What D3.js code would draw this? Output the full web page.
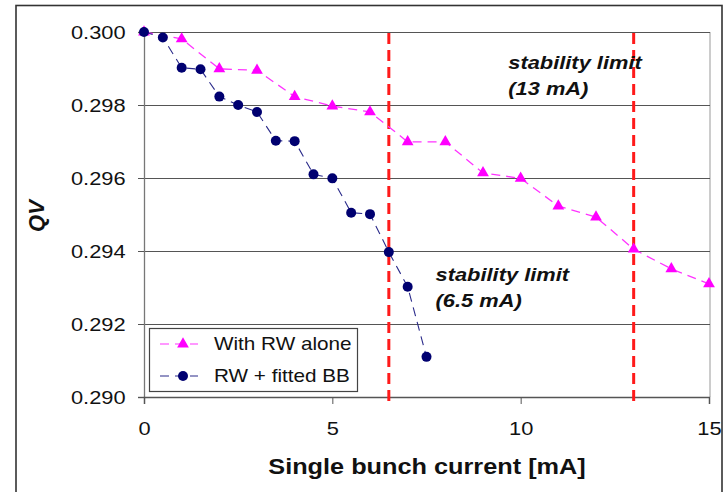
<!DOCTYPE html>
<html>
<head>
<meta charset="utf-8">
<script src="https://cdn.jsdelivr.net/npm/d3@7"></script>
<style>
  html, body { margin: 0; padding: 0; background: #fff; }
  text { font-family: "Liberation Sans", Arial, sans-serif; }
</style>
</head>
<body>
<svg id="chart" width="727" height="492"></svg>
<script>
// ---- data ----
const rwAloneX = [0, 1, 2, 3, 4, 5, 6, 7, 8, 9, 10, 11, 12, 13, 14, 15];
const rwAloneQV = [0.3000, 0.29981, 0.29899, 0.29895, 0.29823, 0.29797, 0.29781, 0.29699,
                   0.29699, 0.29614, 0.29599, 0.29523, 0.29493, 0.29405, 0.29351, 0.29310];
const rwBBX = [0, 0.5, 1, 1.5, 2, 2.5, 3, 3.5, 4, 4.5, 5, 5.5, 6, 6.5, 7, 7.5];
const rwBBQV = [0.3000, 0.29985, 0.29902, 0.29898, 0.29823, 0.29800, 0.29781, 0.29702,
                0.29701, 0.29610, 0.29599, 0.29505, 0.29501, 0.29397, 0.29302, 0.29110];
const limits = [6.5, 13];
const xTicks = [0, 5, 10, 15];
const yTicks = [0.290, 0.292, 0.294, 0.296, 0.298, 0.300];
const seriesNames = ["With RW alone", "RW + fitted BB"];
const annotations = [
  { x: 9.67, y: 0.29899, lines: ["stability limit", "(13 mA)"] },
  { x: 7.74, y: 0.29318, lines: ["stability limit", "(6.5 mA)"] }
];

const SX = 1.15; // horizontal stretch of the original picture's text
const svg = d3.select("#chart");

// outer frame
svg.append("rect").attr("x", 16).attr("y", 5.5).attr("width", 706).attr("height", 520)
  .attr("fill", "none").attr("stroke", "#333").attr("stroke-width", 1.6);

const x = d3.scaleLinear().domain([0, 15]).range([144, 709]);
const y = d3.scaleLinear().domain([0.290, 0.300]).range([397, 32]);

// plot border (right side light gray)
svg.append("line").attr("x1", 710).attr("x2", 710).attr("y1", 32).attr("y2", 397)
  .attr("stroke", "#aaa").attr("stroke-width", 1.2);

// gridlines
svg.append("g").selectAll("line").data(yTicks.slice(1)).join("line")
  .attr("x1", 144).attr("x2", 710)
  .attr("y1", d => Math.round(y(d)) + 0.5).attr("y2", d => Math.round(y(d)) + 0.5)
  .attr("stroke", "#555").attr("stroke-width", 1.1);

// y axis
const yAxis = svg.append("g").attr("transform", "translate(144,0)")
  .call(d3.axisLeft(y).tickValues(yTicks).tickFormat(d3.format(".3f")).tickSize(6).tickPadding(10));
yAxis.select(".domain").attr("stroke", "#777").attr("stroke-width", 1.3);
yAxis.selectAll(".tick line").attr("stroke", "#555");
yAxis.selectAll("text").attr("font-size", 19).attr("fill", "#111")
  .attr("font-family", "Liberation Sans, Arial, sans-serif")
  .attr("transform", `scale(${SX},1)`);

// x axis
const xAxis = svg.append("g").attr("transform", "translate(0,397)")
  .call(d3.axisBottom(x).tickValues(xTicks).tickFormat(d3.format("d")).tickSize(7).tickPadding(18));
xAxis.select(".domain").attr("stroke", "#555").attr("stroke-width", 1.5);
xAxis.selectAll(".tick line").attr("stroke", "#555");
xAxis.selectAll("text").attr("font-size", 19).attr("fill", "#111")
  .attr("font-family", "Liberation Sans, Arial, sans-serif")
  .attr("transform", `scale(${SX},1)`);

// axis titles
svg.append("text").attr("transform", `translate(427,474) scale(${SX},1)`)
  .attr("text-anchor", "middle").attr("font-size", 22).attr("font-weight", "bold")
  .attr("fill", "#111").text("Single bunch current [mA]");
svg.append("text").attr("transform", "translate(44,216) rotate(-90)")
  .attr("text-anchor", "middle").attr("font-size", 22).attr("font-weight", "bold")
  .attr("font-style", "italic").attr("fill", "#111").text("QV");

// stability limit lines
svg.append("g").selectAll("line").data(limits).join("line")
  .attr("x1", d => x(d)).attr("x2", d => x(d)).attr("y1", 33).attr("y2", 404)
  .attr("stroke", "#ff1a1a").attr("stroke-width", 3).attr("stroke-dasharray", "11,6");

// series
const rwAlone = rwAloneX.map((d, i) => ({ x: d, v: rwAloneQV[i] }));
const rwBB = rwBBX.map((d, i) => ({ x: d, v: rwBBQV[i] }));
const line = d3.line().x(d => x(d.x)).y(d => y(d.v));

svg.append("path").datum(rwAlone).attr("d", line).attr("fill", "none")
  .attr("stroke", "#ff33ff").attr("stroke-width", 1.3).attr("stroke-dasharray", "9,6");
svg.append("path").datum(rwBB).attr("d", line).attr("fill", "none")
  .attr("stroke", "#2a2a8a").attr("stroke-width", 1.1).attr("stroke-dasharray", "9,6");

const tri = d3.symbol().type(d3.symbolTriangle).size(60);
svg.append("g").selectAll("path").data(rwAlone).join("path")
  .attr("d", tri).attr("transform", d => `translate(${x(d.x)},${y(d.v)})`)
  .attr("fill", "#ff00ff");
svg.append("g").selectAll("circle").data(rwBB).join("circle")
  .attr("cx", d => x(d.x)).attr("cy", d => y(d.v)).attr("r", 5)
  .attr("fill", "#000070");

// annotations
annotations.forEach(a => {
  a.lines.forEach((l, i) => {
    svg.append("text")
      .attr("transform", `translate(${x(a.x)},${y(a.y) + i * 26}) scale(${SX},1)`)
      .attr("font-size", 19).attr("font-weight", "bold").attr("font-style", "italic")
      .attr("fill", "#111").text(l);
  });
});

// legend
const lg = svg.append("g");
lg.append("rect").attr("x", 149.5).attr("y", 328.5).attr("width", 208).attr("height", 63)
  .attr("fill", "#fff").attr("stroke", "#444").attr("stroke-width", 1.2);
const legendRows = [
  { name: seriesNames[0], color: "#ff33ff", mark: "#ff00ff", dash: "9,6", type: "tri", cy: 344 },
  { name: seriesNames[1], color: "#2a2a8a", mark: "#000070", dash: "9,6", type: "circ", cy: 376 }
];
legendRows.forEach(r => {
  lg.append("line").attr("x1", 160).attr("x2", 198).attr("y1", r.cy).attr("y2", r.cy)
    .attr("stroke", r.color).attr("stroke-width", 1.2).attr("stroke-dasharray", r.dash);
  if (r.type === "tri") {
    lg.append("path").attr("d", tri).attr("transform", `translate(183,${r.cy})`).attr("fill", r.mark);
  } else {
    lg.append("circle").attr("cx", 183).attr("cy", r.cy).attr("r", 5).attr("fill", r.mark);
  }
  lg.append("text").attr("transform", `translate(214,${r.cy + 6}) scale(${SX},1)`)
    .attr("font-size", 18).attr("fill", "#111").text(r.name);
});
</script>
</body>
</html>
